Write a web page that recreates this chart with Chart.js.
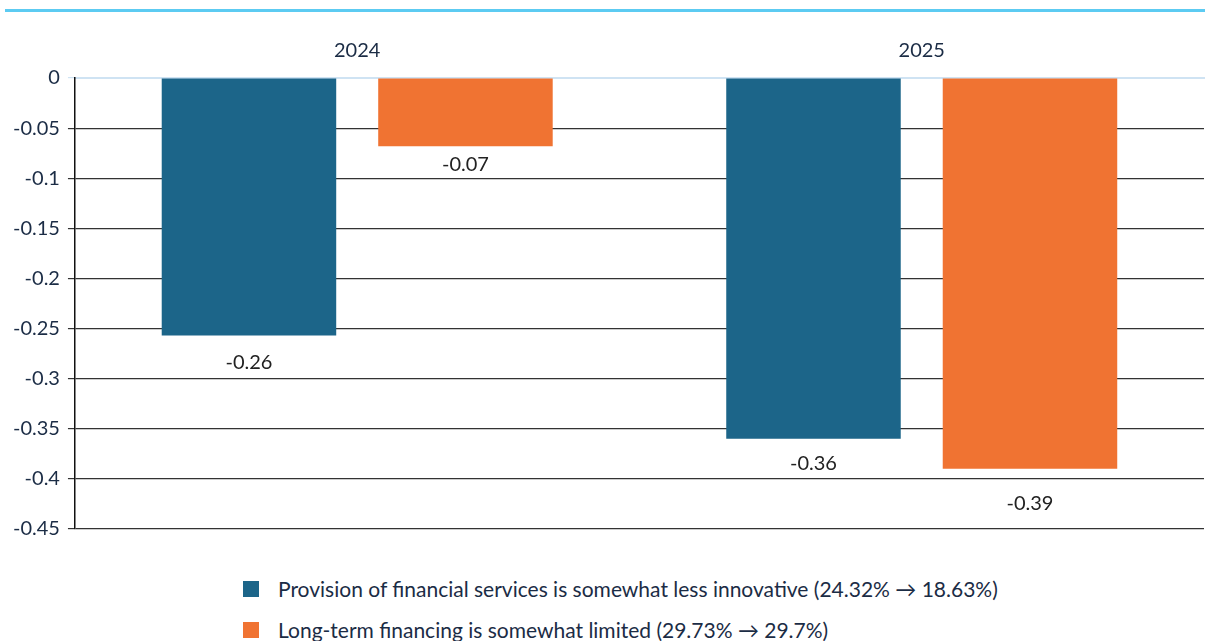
<!DOCTYPE html>
<html>
<head>
<meta charset="utf-8">
<script src="https://cdn.jsdelivr.net/npm/chart.js@4.4.1/dist/chart.umd.min.js"></script>
<style>
    body { margin: 0; background: #fff; font-family: Lato, "Open Sans", sans-serif; }
    .top-rule { position: absolute; left: 5px; right: 0; top: 9px; height: 3px; background: #5ccbf2; }
    .chart-box { position: absolute; left: 0; top: 0; width: 1205px; height: 549px; }
    .legend { position: absolute; left: 243px; top: 568px; color: #1b2c45; font-size: 21px; }
    .legend-item { display: flex; align-items: center; height: 41px; }
    .legend-swatch { width: 16px; height: 16px; margin-right: 19px; }
</style>
</head>
<body>
<div class="top-rule"></div>
<div class="chart-box"><canvas id="financeChart"></canvas></div>
<div class="legend" id="legend"></div>
<script>
    const years = ['2024', '2025'];
    const lessInnovative = [-0.257, -0.36];
    const longTermLimited = [-0.068, -0.39];
    const seriesNames = [
        'Provision of financial services is somewhat less innovative (24.32% \u2192 18.63%)',
        'Long-term financing is somewhat limited (29.73% \u2192 29.7%)'
    ];
    const seriesColors = ['#1c6589', '#f07332'];

    // writes each bar's value below its end, nudged so it sits clear of the grid lines
    const valueLabels = {
        id: 'valueLabels',
        afterDatasetsDraw(chart, args, opts) {
            const ctx = chart.ctx;
            ctx.save();
            ctx.font = '20px Lato, "Open Sans", sans-serif';
            ctx.fillStyle = '#222222';
            ctx.textAlign = 'center';
            ctx.textBaseline = 'middle';
            chart.data.datasets.forEach(function (ds, i) {
                chart.getDatasetMeta(i).data.forEach(function (bar, j) {
                    const gap = (opts.gaps[i] && opts.gaps[i][j]) || 26;
                    ctx.fillText(ds.data[j].toFixed(2), bar.x, bar.y + gap);
                });
            });
            ctx.restore();
        }
    };

    const chart = new Chart(document.getElementById('financeChart'), {
        type: 'bar',
        data: {
            labels: years,
            datasets: [
                { label: seriesNames[0], data: lessInnovative, backgroundColor: seriesColors[0] },
                { label: seriesNames[1], data: longTermLimited, backgroundColor: seriesColors[1] }
            ]
        },
        options: {
            responsive: true,
            maintainAspectRatio: false,
            animation: false,
            categoryPercentage: 0.767,
            barPercentage: 0.806,
            layout: { padding: { top: 32, right: 1, bottom: 6, left: 5 } },
            plugins: {
                legend: { display: false },
                tooltip: { enabled: false },
                valueLabels: { gaps: [[27, 25], [18, 35]] }
            },
            scales: {
                x: {
                    position: 'top',
                    grid: { display: false },
                    border: { display: true, color: '#cfe3f3', width: 2 },
                    ticks: { color: '#1b2c45', font: { size: 20, family: 'Lato' }, padding: 7 }
                },
                y: {
                    min: -0.45,
                    max: 0,
                    ticks: {
                        stepSize: 0.05,
                        color: '#1b2c45',
                        font: { size: 20, family: 'Lato' },
                        padding: 8,
                        callback: function (v) { return +v.toFixed(2); }
                    },
                    grid: {
                        color: function (c) { return c.tick && c.tick.value === 0 ? '#cfe3f3' : '#333333'; },
                        lineWidth: 1.2,
                        tickLength: 7
                    },
                    border: { display: true, color: '#111111', width: 1.5 }
                }
            }
        },
        plugins: [valueLabels]
    });

    const legend = document.getElementById('legend');
    chart.data.datasets.forEach(function (ds) {
        const item = document.createElement('div');
        item.className = 'legend-item';
        item.innerHTML = '<span class="legend-swatch" style="background:' + ds.backgroundColor + '"></span><span>' + ds.label + '</span>';
        legend.appendChild(item);
    });
</script>
</body>
</html>
